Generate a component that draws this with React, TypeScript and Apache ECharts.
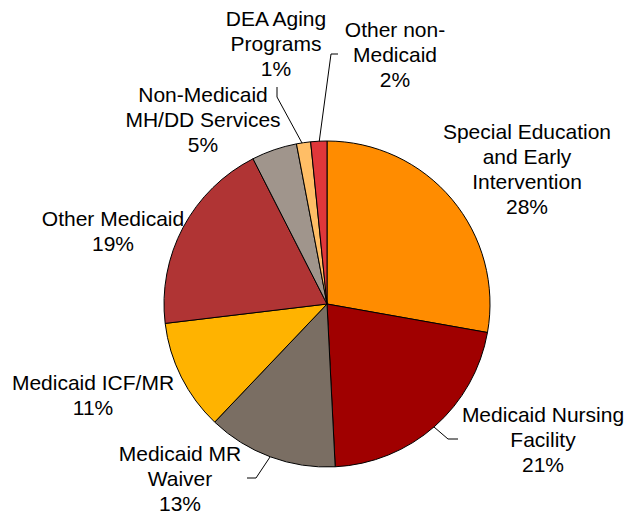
import React, { useEffect, useRef } from "react";
import * as echarts from "echarts";

const categories = [
  "Special Education\nand Early\nIntervention",
  "Medicaid Nursing\nFacility",
  "Medicaid MR\nWaiver",
  "Medicaid ICF/MR",
  "Other Medicaid",
  "Non-Medicaid\nMH/DD Services",
  "DEA Aging\nPrograms",
  "Other non-\nMedicaid",
];
const values = [27.8, 21.4, 12.9, 11.0, 19.4, 4.5, 1.4, 1.6];
const colors = ["#FF8C00", "#A00000", "#7A6E63", "#FFB300", "#B03434", "#A0958C", "#FFBE66", "#E0373A"];

// label block centers (layout)
const labelPos: number[][] = [
  [527, 169],
  [543, 439],
  [180, 478],
  [93, 395],
  [113, 231],
  [203, 119],
  [276, 43],
  [395, 54],
];
// leader lines (layout); null = no line
const leaderLines: (number[][] | null)[] = [
  null,
  [[434, 427], [448, 439], [458, 439]],
  [[270, 457], [256, 478], [247, 478]],
  null,
  null,
  null,
  [[302, 143], [277, 97], [277, 87]],
  [[319, 143], [331, 54], [338, 54]],
];

export default function App() {
  const ref = useRef<HTMLDivElement>(null);
  useEffect(() => {
    if (!ref.current) return;
    const chart = echarts.init(ref.current, null, { renderer: "svg" });
    chart.setOption({
      animation: false,
      backgroundColor: "#ffffff",
      series: [
        {
          type: "pie",
          center: [327, 304],
          radius: 163,
          startAngle: 90,
          clockwise: true,
          avoidLabelOverlap: false,
          itemStyle: { borderColor: "#000", borderWidth: 1 },
          label: {
            show: true,
            position: "outside",
            fontFamily: "Liberation Sans, Arial, sans-serif",
            fontSize: 21,
            lineHeight: 25,
            color: "#000",
            align: "center",
            formatter: (p: any) => `${p.name}\n${Math.round(p.value)}%`,
          },
          labelLine: { show: true, lineStyle: { color: "#000", width: 1 } },
          labelLayout: (params: any) => {
            const i = params.dataIndex;
            const p = labelPos[i];
            const res: any = { x: p[0], y: p[1], align: "center", verticalAlign: "middle" };
            if (leaderLines[i]) res.labelLinePoints = leaderLines[i];
            return res;
          },
          data: categories.map((name, i) => ({
            name,
            value: values[i],
            itemStyle: { color: colors[i] },
            labelLine: { show: !!leaderLines[i] },
          })),
        },
      ],
    });
    return () => chart.dispose();
  }, []);
  return (
    <div
      ref={ref}
      style={{ position: "absolute", left: 0, top: 0, width: 626, height: 514 }}
    />
  );
}
